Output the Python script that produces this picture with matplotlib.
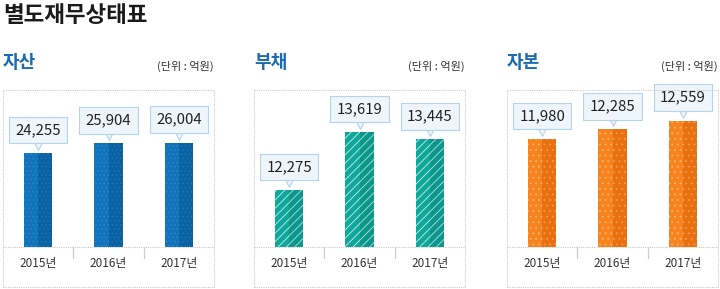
import matplotlib
matplotlib.use("Agg")
import matplotlib.pyplot as plt
from matplotlib.patches import Rectangle
from matplotlib.lines import Line2D
import matplotlib.transforms as mtrans

plt.rcParams["hatch.linewidth"] = 0.6

# ---- data ----
title = "별도재무상태표"
panel_titles = ["자산", "부채", "자본"]
unit_label = "(단위 : 억원)"
years = ["2015년", "2016년", "2017년"]
assets = [24255, 25904, 26004]
liabilities = [12275, 13619, 13445]
equity = [11980, 12285, 12559]
series = [assets, liabilities, equity]

KR = "Noto Sans CJK KR"

W, H = 720, 289
fig = plt.figure(figsize=(W / 100, H / 100), dpi=100)
fig.patch.set_facecolor("white")

def fx(px):
    return px / W

def fy(py):
    return 1 - py / H

fig.text(fx(3), fy(16), title, family=[KR], fontsize=16.2, fontweight="bold",
         color="#1a1a1a", ha="left", va="center")

panel_x = [3, 254, 507]
box_w = 211
box_top, box_bot, base_y = 90, 287, 247
ylims = [(8682, 34736), (10950, 14588), (8549, 13535)]
main_col = ["#1173ba", "#10a79b", "#f7831f"]
dark_col = ["#0b62a3", "#0c978c", "#e9700f"]
hatch = ["....", "////", "..."]
hatch_col = ["#2b86cc", "#c6ede8", "#ffb36e"]
dark_hatch_col = ["#1f74b6", "#acE2dc", "#f79a4e"]
bar_w = 0.4

for i in range(3):
    x0 = panel_x[i]
    fig.text(fx(x0), fy(62), panel_titles[i], family=[KR], fontsize=13,
             fontweight="bold", color="#1a6cb2", ha="left", va="center")
    fig.text(fx(x0 + box_w), fy(66), unit_label, family=[KR], fontsize=8,
             color="#333333", ha="right", va="center")
    # dotted frame
    fig.patches.append(Rectangle((fx(x0), fy(box_bot)), box_w / W, (box_bot - box_top) / H,
                                 transform=fig.transFigure, fill=False,
                                 edgecolor="#c9c9c9", lw=0.8, ls=(0, (1, 1))))
    # baseline
    fig.lines.append(Line2D([fx(x0), fx(x0 + box_w)], [fy(base_y), fy(base_y)],
                            transform=fig.transFigure, color="#c9c9c9", lw=0.8,
                            ls=(0, (1, 1))))
    # separators
    for k in (1, 2):
        sx = x0 + box_w * k / 3
        fig.lines.append(Line2D([fx(sx), fx(sx)], [fy(base_y), fy(base_y + 11)],
                                transform=fig.transFigure, color="#cfcfcf", lw=0.9))

    ax = fig.add_axes([fx(x0), fy(base_y), box_w / W, (base_y - box_top) / H])
    ax.set_xlim(-0.5, 2.5)
    ax.set_ylim(*ylims[i])
    ax.axis("off")
    xs = list(range(len(years)))
    vals = series[i]
    ax.bar(xs, vals, width=bar_w, color=main_col[i], edgecolor=hatch_col[i],
           hatch=hatch[i], linewidth=0, zorder=2)
    ax.bar([x + bar_w / 4 for x in xs], vals, width=bar_w / 2, color=dark_col[i],
           edgecolor=dark_hatch_col[i], hatch=hatch[i], linewidth=0, zorder=2)
    tri = mtrans.offset_copy(ax.transData, fig=fig, x=0, y=9, units="dots")
    for x, v in zip(xs, vals):
        ax.plot([x], [v], marker="v", markersize=8, markerfacecolor="#eef5fb",
                markeredgecolor="#b5d2ee", markeredgewidth=0.8, transform=tri,
                clip_on=False, zorder=3)
        ax.annotate(f"{v:,}", xy=(x, v), xytext=(0, 23), textcoords="offset pixels",
                    ha="center", va="center", fontsize=10.8, family=[KR],
                    color="#222222", annotation_clip=False, zorder=4,
                    bbox=dict(boxstyle="square,pad=0.42", fc="#eef5fb",
                              ec="#b5d2ee", lw=0.8))
        ax.annotate(years[x], xy=(x, 0), xycoords=("data", "axes fraction"),
                    xytext=(0, -16), textcoords="offset pixels", ha="center",
                    va="center", fontsize=8.5, family=[KR], color="#333333",
                    annotation_clip=False)

fig.savefig("out.png", dpi=100, facecolor="white")
